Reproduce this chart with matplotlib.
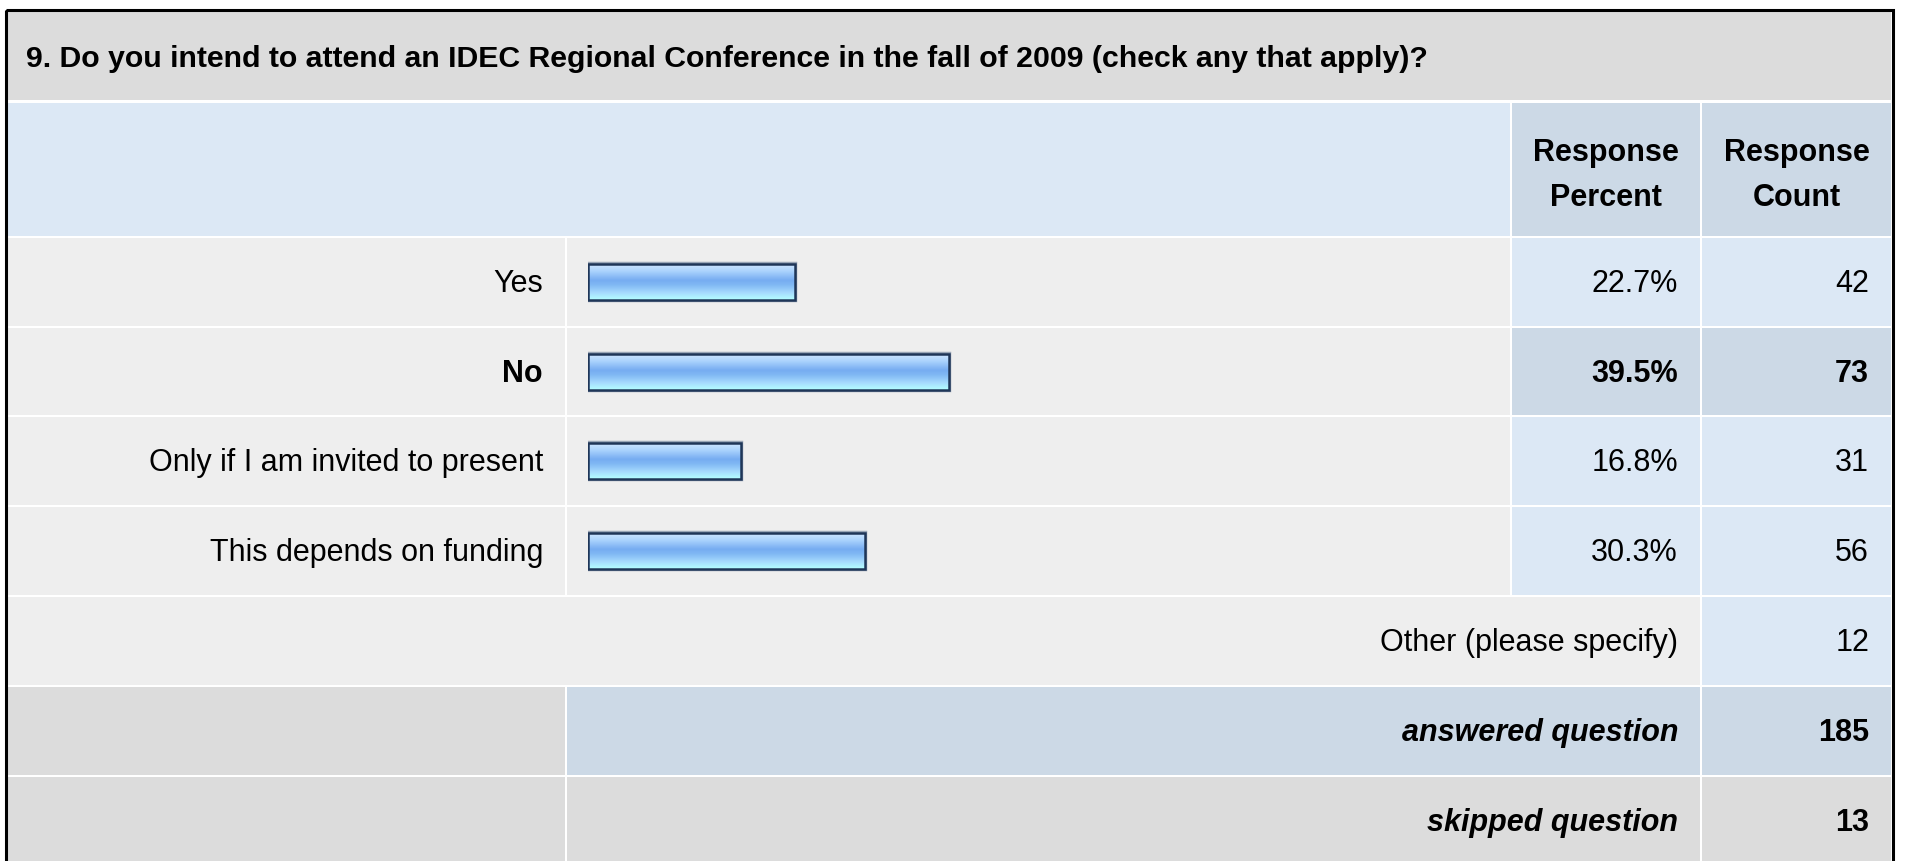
import numpy as np
import matplotlib
matplotlib.use('Agg')
import matplotlib.pyplot as plt
from matplotlib.patches import Rectangle
from matplotlib.colors import LinearSegmentedColormap

# Data
title = "9. Do you intend to attend an IDEC Regional Conference in the fall of 2009 (check any that apply)?"
header_pct = ["Response", "Percent"]
header_cnt = ["Response", "Count"]
options = ["Yes", "No", "Only if I am invited to present", "This depends on funding"]
percents = [22.7, 39.5, 16.8, 30.3]
counts = [42, 73, 31, 56]
other_label = "Other (please specify)"
other_count = 12
answered = 185
skipped = 13

plt.rcParams['font.family'] = ['Liberation Sans', 'DejaVu Sans']
FS = 22
DY = 2  # small nudge so text sits like the original

W, H = 1907, 861
fig = plt.figure(figsize=(W / 100, H / 100), dpi=100)
fig.patch.set_facecolor('white')
ax = fig.add_axes([0, 0, 1, 1])
ax.set_xlim(0, W)
ax.set_ylim(H, 0)
ax.axis('off')

GREY = '#dcdcdc'
LIGHT = '#eeeeee'
BLUE1 = '#dce8f5'
BLUE2 = '#ccd9e6'


def cell(x0, x1, y0, y1, color):
    ax.add_patch(Rectangle((x0, y0), x1 - x0, y1 - y0, facecolor=color, edgecolor='none', zorder=1))


# column edges (left, right) in pixels
c_lab = (8, 565)
c_bar = (567, 1510)
c_pct = (1512, 1700)
c_cnt = (1702, 1891)
row_tops = [238, 328, 417, 507, 597, 687, 777]
row_bots = [326, 415, 505, 595, 685, 775, 875]

# title + header
cell(8, 1891, 12, 100, GREY)
ax.text(26, 59, title, fontsize=21.8, fontweight='bold', va='center', ha='left', zorder=5)
cell(8, 1510, 103, 236, BLUE1)
cell(*c_pct, 103, 236, BLUE2)
cell(*c_cnt, 103, 236, BLUE2)
for i in range(2):
    yy = 153 + 45 * i
    ax.text(sum(c_pct) / 2, yy, header_pct[i], fontsize=FS, fontweight='bold', ha='center', va='center', zorder=5)
    ax.text(sum(c_cnt) / 2, yy, header_cnt[i], fontsize=FS, fontweight='bold', ha='center', va='center', zorder=5)

imax = int(np.argmax(counts))
for i, (lab, p, c) in enumerate(zip(options, percents, counts)):
    y0, y1 = row_tops[i], row_bots[i]
    yc = (y0 + y1) / 2 + DY
    cell(*c_lab, y0, y1, LIGHT)
    cell(*c_bar, y0, y1, LIGHT)
    fc = BLUE2 if i == imax else BLUE1
    cell(*c_pct, y0, y1, fc)
    cell(*c_cnt, y0, y1, fc)
    fw = 'bold' if i == imax else 'normal'
    ax.text(543, yc, lab, fontsize=FS, fontweight=fw, ha='right', va='center', zorder=5)
    ax.text(1678, yc, f"{p:.1f}%", fontsize=FS, fontweight=fw, ha='right', va='center', zorder=5)
    ax.text(1869, yc, str(c), fontsize=FS, fontweight=fw, ha='right', va='center', zorder=5)

# other row
y0, y1 = row_tops[4], row_bots[4]
cell(8, 1700, y0, y1, LIGHT)
cell(*c_cnt, y0, y1, BLUE1)
ax.text(1678, (y0 + y1) / 2 + DY, other_label, fontsize=FS, ha='right', va='center', zorder=5)
ax.text(1869, (y0 + y1) / 2 + DY, str(other_count), fontsize=FS, ha='right', va='center', zorder=5)

# answered / skipped
for k, (lab, val, mid) in enumerate([("answered question", answered, BLUE2),
                                     ("skipped question", skipped, GREY)]):
    y0 = row_tops[5 + k]
    yc = y0 + 44 + DY
    cell(*c_lab, y0, row_bots[5 + k], GREY)
    cell(567, 1700, y0, row_bots[5 + k], mid)
    cell(*c_cnt, y0, row_bots[5 + k], mid)
    ax.text(1678, yc, lab, fontsize=FS, fontweight='bold', style='italic',
            ha='right', va='center', zorder=5)
    ax.text(1869, yc, str(val), fontsize=FS, fontweight='bold', ha='right', va='center', zorder=5)

# outer frame
ax.add_patch(Rectangle((6, 10), 1887, 900, facecolor='none', edgecolor='black', lw=2.2, zorder=6))

# bars in their own axes, 0..100 %
bax = fig.add_axes([588 / W, 1 - 596 / H, 913 / W, 359 / H])
bax.patch.set_alpha(0)
grad_cmap = LinearSegmentedColormap.from_list('bar', [
    (0.0, '#cfe6ff'), (0.2, '#a9d2fd'), (0.45, '#76acf1'), (0.58, '#80b8f4'),
    (0.8, '#a6dafd'), (1.0, '#b4ffff')])
grad = np.linspace(0, 1, 64).reshape(-1, 1)
ypos = np.arange(len(options))
bh = 0.40
# faint halo round each bar, then the gradient, then the dark border
bax.barh(ypos, percents, height=bh, facecolor='none', edgecolor='#9aa6b6', lw=3.2, zorder=1)
bars = bax.barh(ypos, percents, height=bh, facecolor='none', edgecolor='#1f3658', lw=1.8, zorder=3)
for b, yv, p in zip(bars, ypos, percents):
    im = bax.imshow(grad, cmap=grad_cmap, extent=(0, p, yv + bh / 2, yv - bh / 2),
                    aspect='auto', zorder=2, interpolation='bilinear')
    im.set_clip_path(b)
bax.set_xlim(0, 100)
bax.set_ylim(len(options) - 0.5, -0.5)
bax.axis('off')

fig.savefig('out.png', dpi=100, facecolor='white')
